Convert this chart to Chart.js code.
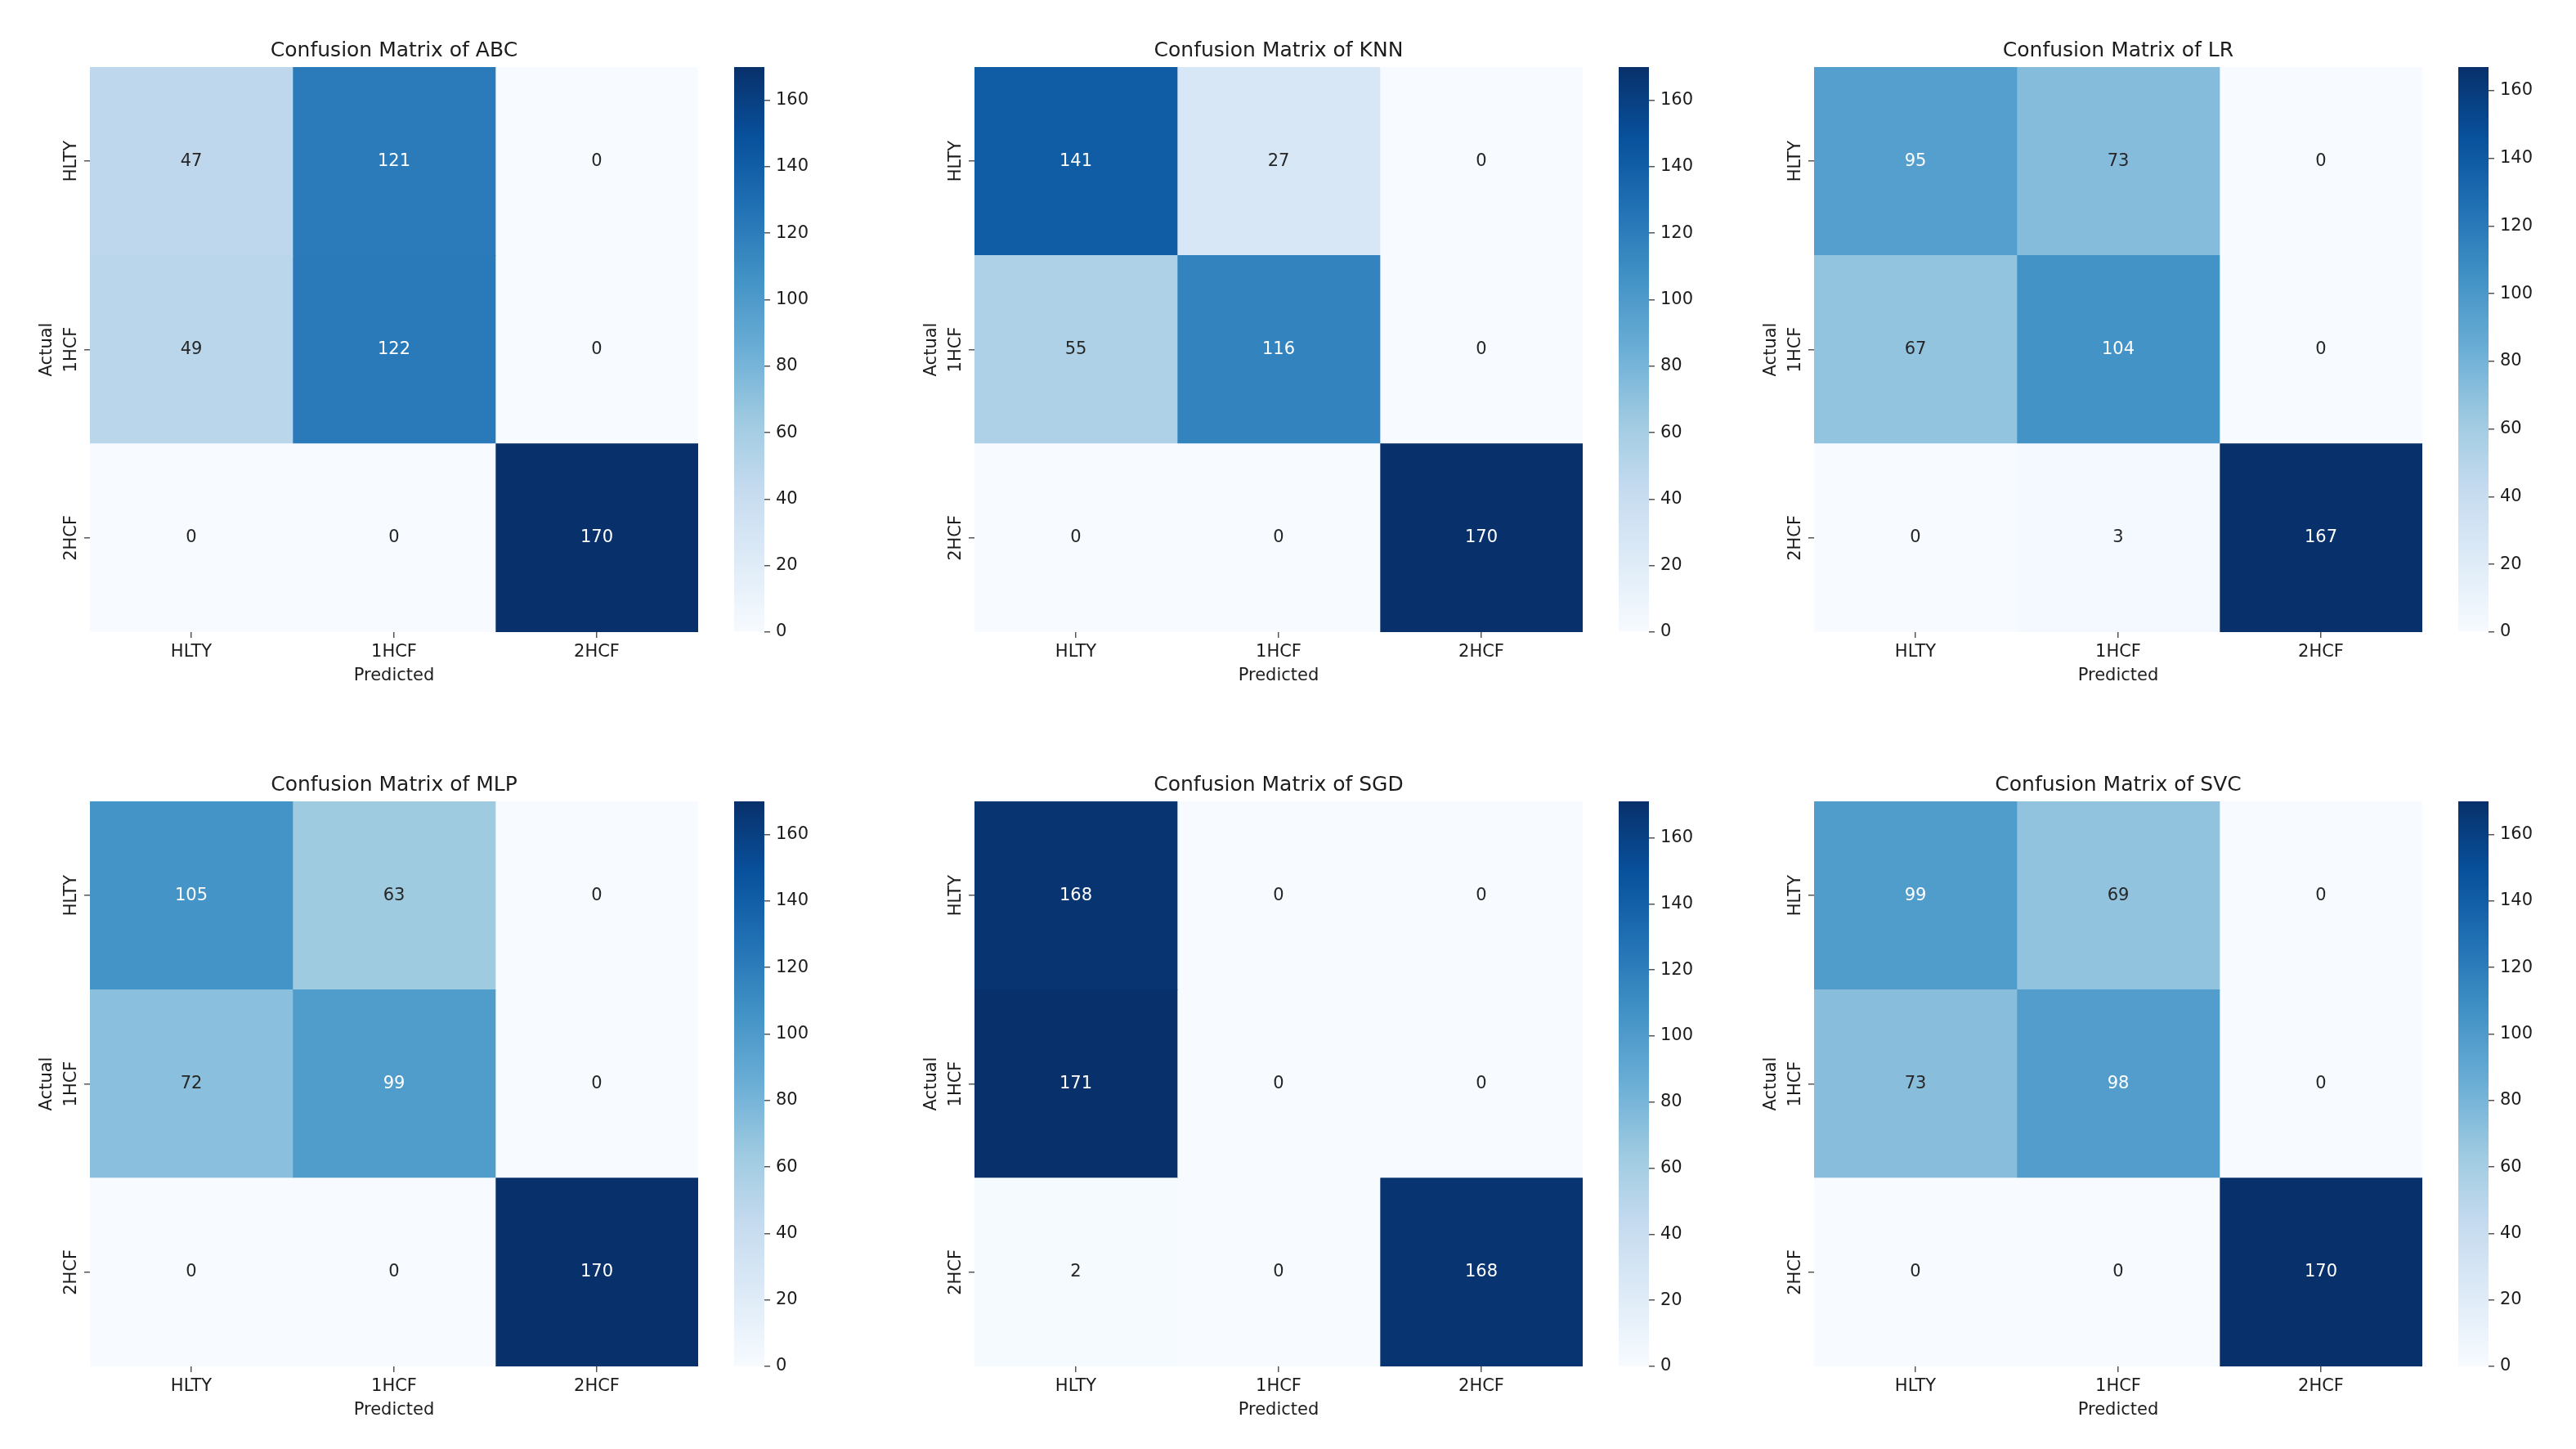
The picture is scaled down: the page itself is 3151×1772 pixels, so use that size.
<!DOCTYPE html>
<html>
<head>
<meta charset="utf-8">
<script src="https://cdn.jsdelivr.net/npm/chart.js@4.4.0/dist/chart.umd.min.js"></script>
<style>
  html, body { margin: 0; padding: 0; background: #fff; }
  #page { position: relative; width: 3151px; height: 1772px; overflow: hidden; background: #fff; }
  canvas { position: absolute; }
</style>
</head>
<body>
<div id="page"></div>
<script>
// ======== Data ========
const classLabels = ["HLTY", "1HCF", "2HCF"];
const modelNames = ["ABC", "KNN", "LR", "MLP", "SGD", "SVC"];

// rows = Actual, cols = Predicted
const cmABC = [[47, 121, 0], [49, 122, 0], [0, 0, 170]];
const cmKNN = [[141, 27, 0], [55, 116, 0], [0, 0, 170]];
const cmLR  = [[95, 73, 0], [67, 104, 0], [0, 3, 167]];
const cmMLP = [[105, 63, 0], [72, 99, 0], [0, 0, 170]];
const cmSGD = [[168, 0, 0], [171, 0, 0], [2, 0, 168]];
const cmSVC = [[99, 69, 0], [73, 98, 0], [0, 0, 170]];
const matrices = [cmABC, cmKNN, cmLR, cmMLP, cmSGD, cmSVC];

const cbarTicks = [0, 20, 40, 60, 80, 100, 120, 140, 160];

// ======== Layout ========
const colLefts = [110, 1192, 2219];   // heatmap left edge per column
const rowTops = [82, 980];            // heatmap top edge per row
const HM_W = 744, HM_H = 691;
const CB_GAP = 788, CB_W = 37, CB_PAD = 16;
const FONT = "'DejaVu Sans', sans-serif";
const TXT = "#1c1c1c";
const TICK = "#555";

// ======== Blues colormap (matplotlib) ========
const bluesStops = ["#f7fbff", "#deebf7", "#c6dbef", "#9ecae1", "#6baed6",
                    "#4292c6", "#2171b5", "#08519c", "#08306b"];
const hex = (h) => [1, 3, 5].map((k) => parseInt(h.slice(k, k + 2), 16));
function bluesRGB(t) {
  t = Math.min(1, Math.max(0, t));
  const p = t * (bluesStops.length - 1);
  const i = Math.min(bluesStops.length - 2, Math.floor(p));
  const f = p - i;
  const a = hex(bluesStops[i]), b = hex(bluesStops[i + 1]);
  return a.map((v, k) => Math.round(v + (b[k] - v) * f));
}
const rgbStr = (c) => `rgb(${c[0]},${c[1]},${c[2]})`;
function luminance(c) {
  const lin = c.map((v) => {
    v /= 255;
    return v <= 0.03928 ? v / 12.92 : Math.pow((v + 0.055) / 1.055, 2.4);
  });
  return 0.2126 * lin[0] + 0.7152 * lin[1] + 0.0722 * lin[2];
}

// ======== Plugin: cell annotations + rotated y tick labels ========
const heatText = {
  id: "heatText",
  afterDraw(chart, args, opts) {
    const ctx = chart.ctx;
    const cm = opts.matrix, vmax = opts.vmax;
    ctx.save();
    ctx.font = `21px ${FONT}`;
    ctx.textAlign = "center";
    ctx.textBaseline = "middle";
    chart.data.datasets.forEach((ds, j) => {
      const meta = chart.getDatasetMeta(j);
      meta.data.forEach((bar, i) => {
        const v = cm[i][j];
        const c = bluesRGB(v / vmax);
        ctx.fillStyle = luminance(c) > 0.408 ? "#262626" : "#ffffff";
        ctx.fillText(String(v), (bar.x + bar.base) / 2, bar.y);
      });
    });
    // y tick labels, rotated like matplotlib
    const ys = chart.scales.y;
    ctx.fillStyle = TXT;
    classLabels.forEach((lab, i) => {
      ctx.save();
      ctx.translate(chart.chartArea.left - 22, ys.getPixelForTick(i));
      ctx.rotate(-Math.PI / 2);
      ctx.fillText(lab, 0, 0);
      ctx.restore();
    });
    ctx.restore();
  },
};

const page = document.getElementById("page");
function makeCanvas(left, top, w, h) {
  const c = document.createElement("canvas");
  c.width = w; c.height = h;
  c.style.left = left + "px"; c.style.top = top + "px";
  c.style.width = w + "px"; c.style.height = h + "px";
  page.appendChild(c);
  return c;
}

// ======== Build panels ========
matrices.forEach((cm, m) => {
  const col = m % 3, row = Math.floor(m / 3);
  const hmLeft = colLefts[col], hmTop = rowTops[row];
  const vmax = Math.max(...cm.flat());

  // ---- heatmap ----
  const el = makeCanvas(hmLeft - 110, hmTop - 82, 110 + HM_W + 6, 82 + HM_H + 100);
  new Chart(el, {
    type: "bar",
    data: {
      labels: classLabels,
      datasets: classLabels.map((pred, j) => ({
        label: pred,
        data: cm.map(() => 1),
        backgroundColor: cm.map((r) => rgbStr(bluesRGB(r[j] / vmax))),
        borderWidth: 0,
        barPercentage: 1,
        categoryPercentage: 1,
      })),
    },
    options: {
      indexAxis: "y",
      responsive: false,
      animation: false,
      devicePixelRatio: 1,
      layout: { padding: { right: 6 } },
      plugins: {
        legend: { display: false },
        tooltip: { enabled: false },
        title: {
          display: true,
          text: "Confusion Matrix of " + modelNames[m],
          fullSize: false,
          color: TXT,
          font: { family: FONT, size: 25, weight: "normal" },
          padding: { top: 47, bottom: 5 },
        },
        heatText: { matrix: cm, vmax: vmax },
      },
      scales: {
        x: {
          type: "linear",
          stacked: true,
          min: 0,
          max: classLabels.length,
          afterBuildTicks: (s) => { s.ticks = classLabels.map((_, i) => ({ value: i + 0.5 })); },
          afterFit: (s) => { s.height = 100; },
          grid: { drawOnChartArea: false, drawTicks: true, tickLength: 7, color: TICK, lineWidth: 1.5 },
          border: { display: false },
          ticks: {
            autoSkip: false, maxRotation: 0, padding: 5, color: TXT,
            font: { family: FONT, size: 21 },
            callback: (v, i) => classLabels[i],
          },
          title: {
            display: true, text: "Predicted", color: TXT,
            font: { family: FONT, size: 21 },
            padding: { top: 0, bottom: 34 },
          },
        },
        y: {
          type: "category",
          stacked: true,
          offset: true,
          afterFit: (s) => { s.width = 110; },
          grid: { offset: false, drawOnChartArea: false, drawTicks: true, tickLength: 7, color: TICK, lineWidth: 1.5 },
          border: { display: false },
          ticks: { display: false },
          title: {
            display: true, text: "Actual", color: TXT,
            font: { family: FONT, size: 21 },
            padding: { top: 45, bottom: 0 },
          },
        },
      },
    },
    plugins: [heatText],
  });

  // ---- colorbar ----
  const cb = makeCanvas(hmLeft + CB_GAP, hmTop - CB_PAD, CB_W + 70, HM_H + 2 * CB_PAD);
  new Chart(cb, {
    type: "bar",
    data: {
      labels: [""],
      datasets: [{
        data: [vmax],
        barPercentage: 1,
        categoryPercentage: 1,
        borderWidth: 0,
        backgroundColor: (ctx) => {
          const ca = ctx.chart.chartArea;
          if (!ca) return bluesStops[4];
          const g = ctx.chart.ctx.createLinearGradient(0, ca.bottom, 0, ca.top);
          for (let k = 0; k <= 48; k++) g.addColorStop(k / 48, rgbStr(bluesRGB(k / 48)));
          return g;
        },
      }],
    },
    options: {
      responsive: false,
      animation: false,
      devicePixelRatio: 1,
      layout: { padding: { top: CB_PAD, bottom: CB_PAD } },
      plugins: { legend: { display: false }, tooltip: { enabled: false } },
      scales: {
        x: { display: false },
        y: {
          position: "right",
          min: 0,
          max: vmax,
          afterBuildTicks: (s) => { s.ticks = cbarTicks.filter((t) => t <= vmax).map((t) => ({ value: t })); },
          afterFit: (s) => { s.width = 70; s.paddingTop = 0; s.paddingBottom = 0; },
          grid: { drawOnChartArea: false, drawTicks: true, tickLength: 7, color: TICK, lineWidth: 1.5 },
          border: { display: false },
          ticks: { padding: 7, color: TXT, font: { family: FONT, size: 21 } },
        },
      },
    },
  });
});
</script>
</body>
</html>
